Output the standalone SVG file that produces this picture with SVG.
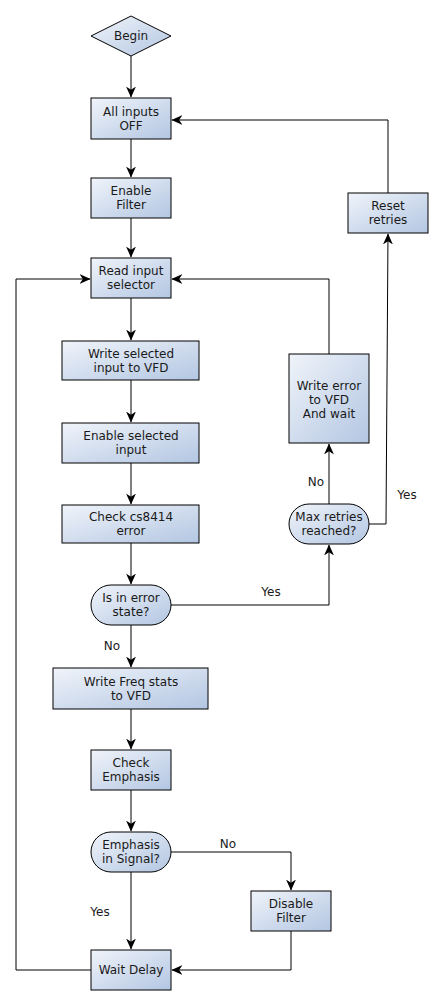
<svg xmlns="http://www.w3.org/2000/svg" width="444" height="1006" viewBox="0 0 444 1006">
<defs>
<linearGradient id="g" x1="0" y1="0" x2="1" y2="1">
<stop offset="0" stop-color="#f0f4fa"/>
<stop offset="1" stop-color="#b3c6e2"/>
</linearGradient>
<marker id="a" viewBox="0 0 10 10" refX="9.5" refY="5" markerWidth="11" markerHeight="11" markerUnits="userSpaceOnUse" orient="auto">
<path d="M0,0.5 L10,5 L0,9.5 L3,5 Z" fill="#000"/>
</marker>
<style>
.n{fill:url(#g);stroke:#000;stroke-width:1}
.t{font-family:"DejaVu Sans",sans-serif;font-size:12px;fill:#1a1a1a;text-anchor:middle}
.l{font-family:"DejaVu Sans",sans-serif;font-size:12px;fill:#1a1a1a;text-anchor:middle}
.c{fill:none;stroke:#000;stroke-width:1;marker-end:url(#a)}
</style>
</defs>
<rect width="444" height="1006" fill="#fff"/>
<g id="connectors">
<path class="c" d="M131,56 V97"/>
<path class="c" d="M131,139 V177"/>
<path class="c" d="M131,218 V257"/>
<path class="c" d="M131,298 V340"/>
<path class="c" d="M131,380 V422"/>
<path class="c" d="M131,463 V504"/>
<path class="c" d="M131,543 V584"/>
<path class="c" d="M131,625 V667"/>
<path class="c" d="M131,709 V749"/>
<path class="c" d="M131,790 V831"/>
<path class="c" d="M131,872 V949"/>
<path class="c" d="M171,605 H329 V545"/>
<path class="c" d="M329,504 V444"/>
<path class="c" d="M369,524 H386 L388,234"/>
<path class="c" d="M388,193 V120 H172"/>
<path class="c" d="M329,354 V279 H172"/>
<path class="c" d="M91,970 H16 V279 H90"/>
<path class="c" d="M171,852 H291 V890"/>
<path class="c" d="M291,931 V970 H172"/>
<text class="l" x="271" y="596">Yes</text>
<text class="l" x="112" y="650">No</text>
<text class="l" x="316" y="486">No</text>
<text class="l" x="407" y="499">Yes</text>
<text class="l" x="228" y="848">No</text>
<text class="l" x="100" y="916">Yes</text>
</g>
<g id="begin"><path class="n" d="M131,16 L171,36 L131,56 L91,36 Z"/><text class="t" x="131" y="40">Begin</text></g>
<g id="all-inputs-off"><rect class="n" x="91" y="98" width="80" height="41"/><text class="t" x="131" y="116">All inputs</text><text class="t" x="131" y="130">OFF</text></g>
<g id="enable-filter"><rect class="n" x="91" y="178" width="80" height="40"/><text class="t" x="131" y="195">Enable</text><text class="t" x="131" y="209">Filter</text></g>
<g id="read-input"><rect class="n" x="91" y="258" width="80" height="40"/><text class="t" x="131" y="275">Read input</text><text class="t" x="131" y="289">selector</text></g>
<g id="write-selected"><rect class="n" x="62" y="341" width="137" height="39"/><text class="t" x="131" y="358">Write selected</text><text class="t" x="131" y="372">input to VFD</text></g>
<g id="enable-selected"><rect class="n" x="62" y="423" width="137" height="40"/><text class="t" x="131" y="440">Enable selected</text><text class="t" x="131" y="454">input</text></g>
<g id="check-cs8414"><rect class="n" x="62" y="505" width="137" height="38"/><text class="t" x="131" y="521">Check cs8414</text><text class="t" x="131" y="535">error</text></g>
<g id="is-error"><rect class="n" x="91" y="585" width="80" height="40" rx="20" ry="20"/><text class="t" x="131" y="602">Is in error</text><text class="t" x="131" y="616">state?</text></g>
<g id="write-freq"><rect class="n" x="53" y="668" width="155" height="41"/><text class="t" x="131" y="686">Write Freq stats</text><text class="t" x="131" y="700">to VFD</text></g>
<g id="check-emphasis"><rect class="n" x="91" y="750" width="80" height="40"/><text class="t" x="131" y="767">Check</text><text class="t" x="131" y="781">Emphasis</text></g>
<g id="emphasis-signal"><rect class="n" x="91" y="832" width="80" height="40" rx="20" ry="20"/><text class="t" x="131" y="849">Emphasis</text><text class="t" x="131" y="863">in Signal?</text></g>
<g id="disable-filter"><rect class="n" x="251" y="891" width="80" height="40"/><text class="t" x="291" y="908">Disable</text><text class="t" x="291" y="922">Filter</text></g>
<g id="wait-delay"><rect class="n" x="91" y="950" width="80" height="40"/><text class="t" x="131" y="974">Wait Delay</text></g>
<g id="reset-retries"><rect class="n" x="348" y="193" width="80" height="40"/><text class="t" x="388" y="210">Reset</text><text class="t" x="388" y="224">retries</text></g>
<g id="write-error"><rect class="n" x="289" y="354" width="80" height="89"/><text class="t" x="329" y="390">Write error</text><text class="t" x="329" y="404">to VFD</text><text class="t" x="329" y="418">And wait</text></g>
<g id="max-retries"><rect class="n" x="289" y="504" width="80" height="40" rx="20" ry="20"/><text class="t" x="329" y="521">Max retries</text><text class="t" x="329" y="535">reached?</text></g>
</svg>
